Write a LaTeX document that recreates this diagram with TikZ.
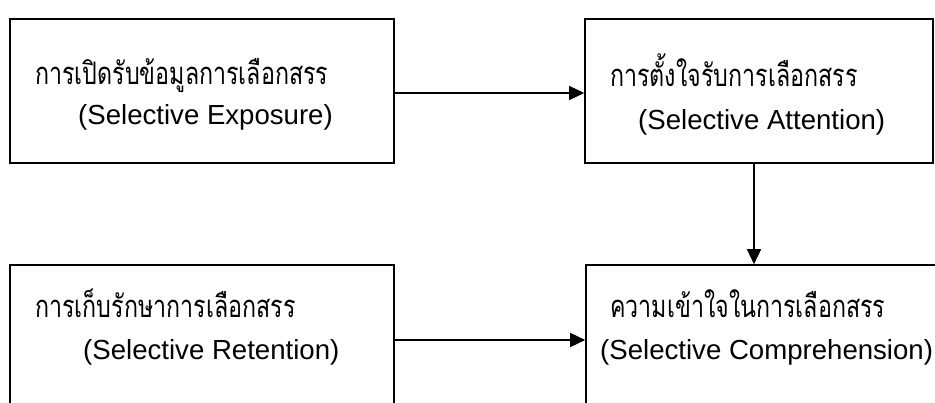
\documentclass[tikz,border=0pt]{standalone}
\usepackage{fontspec}
\setmainfont{Liberation Sans}
\newfontfamily\thaifont[Script=Thai,FakeStretch=0.75]{Loma}
\usetikzlibrary{arrows.meta}
\begin{document}
\begin{tikzpicture}[x=1pt,y=-1pt,
  stagebox/.style={draw,line width=1.6pt,rectangle,inner sep=0pt},
  thailine/.style={anchor=base west,inner sep=0pt,font=\thaifont\fontsize{31}{34}\selectfont},
  engline/.style={anchor=base west,inner sep=0pt,font=\fontsize{27.6}{32}\selectfont},
  flow/.style={line width=1.4pt,-{Triangle[length=15pt,width=14pt]}}]
\useasboundingbox (0,0) rectangle (935,403);
\clip (0,0) rectangle (935,403);
% four stages
\node[stagebox,minimum width=384pt,minimum height=144pt] (expo) at (202,91) {};
\node[stagebox,minimum width=348pt,minimum height=144pt] (atten) at (759,91) {};
\node[stagebox,minimum width=384pt,minimum height=144pt] (reten) at (202,337) {};
\node[stagebox,minimum width=380pt,minimum height=144pt] (compr) at (776,337) {};
% labels
\node[thailine] (expoT) at (35,85) {การเปิดรับข้อมูลการเลือกสรร};
\node[engline] (expoE) at (78,125) {(Selective Exposure)};
\node[thailine] (attenT) at (610,87) {การตั้งใจรับการเลือกสรร};
\node[engline] (attenE) at (638,130) {(Selective Attention)};
\node[thailine] (retenT) at (35,318) {การเก็บรักษาการเลือกสรร};
\node[engline] (retenE) at (83,360) {(Selective Retention)};
\node[thailine] (comprT) at (610,318) {ความเข้าใจในการเลือกสรร};
\node[engline] (comprE) at (600,360) {(Selective Comprehension)};
% connectors
\coordinate (a1) at (754,0);
\draw[flow] (expo.east |- 0,93) -- (atten.west |- 0,93);
\draw[flow] (atten.south -| a1) -- (compr.north -| a1);
\draw[flow] (reten.east |- 0,340) -- (compr.west |- 0,340);
\end{tikzpicture}
\end{document}
